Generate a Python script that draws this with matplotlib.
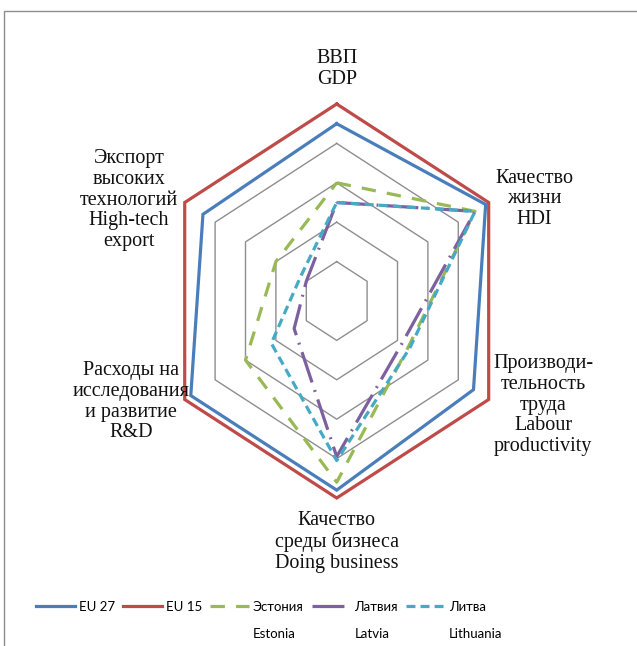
"""Radar chart: EU 27 / EU 15 vs Baltic states across six indicators."""

import matplotlib
matplotlib.use("Agg")
import matplotlib.pyplot as plt
import numpy as np
from matplotlib.patches import Rectangle

# ── data (index, EU 15 = 100) ──
categories = ["ВВП\nGDP",
              "Качество\nжизни\nHDI",
              "Производи-\nтельность\nтруда\nLabour\nproductivity",
              "Качество\nсреды бизнеса\nDoing business",
              "Расходы на\nисследования\nи развитие\nR&D",
              "Экспорт\nвысоких\nтехнологий\nHigh-tech\nexport"]
eu27 = [90, 98, 90, 96, 96, 88]
eu15 = [100, 100, 100, 100, 100, 100]
estonia = [60, 91, 47, 92, 60, 40]
latvia = [50, 91, 43, 79, 28, 20]
lithuania = [50, 91, 48, 81, 43, 24]
grid_levels = [20, 40, 60, 80, 100]

series_names = ["EU 27", "EU 15", "Эстония", "Латвия", "Литва"]
series_second = [None, None, "Estonia", "Latvia", "Lithuania"]
series_values = [eu27, eu15, estonia, latvia, lithuania]

# ── styles ──
colors = ["#4A7EBB", "#BE4B48", "#98B954", "#7D60A0", "#46AAC5"]
styles = ["-", "-", (0, (4.5, 3.5)), (0, (10, 2.5, 0.6, 2.5)), (0, (2.8, 1.6))]
LW = 2.3

SERIF = ["Liberation Serif", "DejaVu Serif"]
SANS = ["Lato", "Liberation Sans", "DejaVu Sans"]
LEG_FS = 9.5

W, H = 637, 646
fig = plt.figure(figsize=(W / 100, H / 100), dpi=100)

# chart-area frame (only left/top edges fall inside the picture)
fig.patches.append(Rectangle((4 / W, -0.1), 1.2, 1 - 11 / H + 0.1,
                             transform=fig.transFigure, fill=False,
                             edgecolor="#8C8C8C", lw=1.0))

# axes box in pixels: centre (336.7, 301), radius 175.5 px across, 197 px down
ax_l, ax_r, ax_t, ax_b = 161.2, 512.2, 104.0, 498.0
ax = fig.add_axes([ax_l / W, 1 - ax_b / H, (ax_r - ax_l) / W, (ax_b - ax_t) / H],
                  projection="polar")
ax.set_aspect("auto")
ax.set_theta_zero_location("N")
ax.set_theta_direction(-1)
ax.set_ylim(0, 100)
ax.grid(False)
ax.set_xticks([])
ax.set_yticks([])
ax.spines["polar"].set_visible(False)
ax.patch.set_visible(False)

n = len(categories)
theta = np.linspace(0, 2 * np.pi, n, endpoint=False)
theta_c = np.append(theta, theta[0])

for lvl in grid_levels:
    ax.plot(theta_c, [lvl] * (n + 1), color="#8E8E8E", lw=1.0, clip_on=False,
            zorder=1)

for vals, col, ls in zip(series_values, colors, styles):
    v = np.append(vals, vals[0])
    ax.plot(theta_c, v, color=col, lw=LW, linestyle=ls, clip_on=False,
            solid_joinstyle="miter", dash_capstyle="butt", zorder=3)

# ── category labels (axes-fraction positions) ──
label_pos = [(0.5, 1.038, "center", "bottom"),
             (1.062, 0.759, "center", "center"),
             (1.088, 0.236, "center", "center"),
             (0.5, -0.032, "center", "top"),
             (-0.086, 0.244, "center", "center"),
             (-0.092, 0.756, "center", "center")]
for txt, (x, y, ha, va) in zip(categories, label_pos):
    ax.text(x, y, txt, transform=ax.transAxes, ha=ha, va=va,
            fontsize=14.5, family=SERIF, linespacing=1.12, color="#111111")

# ── legend ──
handles = [plt.Line2D([], [], color=c, lw=LW, linestyle=s, dash_capstyle="butt")
           for c, s in zip(colors, styles)]
leg = fig.legend(handles, series_names, loc="center left",
                 bbox_to_anchor=(36 / W, 1 - 607 / H), ncol=5, frameon=False,
                 prop={"family": SANS, "size": LEG_FS}, handlelength=2.95,
                 handletextpad=0.3, columnspacing=0.6, borderpad=0,
                 borderaxespad=0)

fig.canvas.draw()
for t, second in zip(leg.get_texts(), series_second):
    if second is None:
        continue
    bb = t.get_window_extent()
    fig.text(bb.x0 / W, (bb.y0 - 27) / H, second, ha="left", va="bottom",
             family=SANS, fontsize=LEG_FS)

fig.savefig("out.png", dpi=100)
